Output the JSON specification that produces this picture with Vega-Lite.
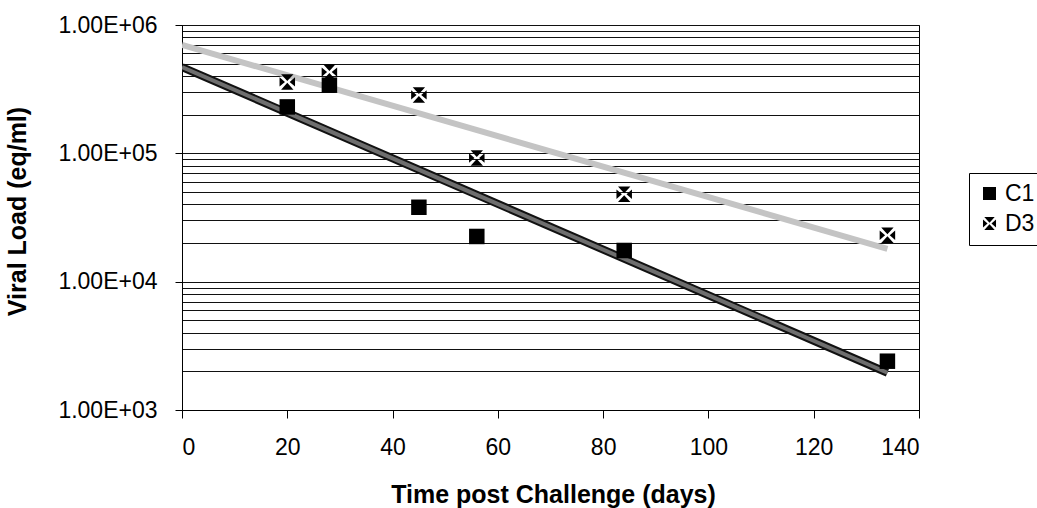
{
  "$schema": "https://vega.github.io/schema/vega-lite/v6.json",
  "width": 737,
  "height": 385,
  "autosize": {"type": "none"},
  "padding": {"left": 182, "top": 25, "right": 118, "bottom": 98},
  "background": "white",
  "config": {
    "view": {"stroke": "black", "strokeWidth": 1},
    "font": "Liberation Sans"
  },
  "datasets": {
    "points": [
      {"day": 20, "load": 230000, "series": "C1"},
      {"day": 28, "load": 340000, "series": "C1"},
      {"day": 45, "load": 38000, "series": "C1"},
      {"day": 56, "load": 22500, "series": "C1"},
      {"day": 84, "load": 17500, "series": "C1"},
      {"day": 134, "load": 2400, "series": "C1"},
      {"day": 20, "load": 360000, "series": "D3"},
      {"day": 28, "load": 430000, "series": "D3"},
      {"day": 45, "load": 285000, "series": "D3"},
      {"day": 56, "load": 92000, "series": "D3"},
      {"day": 84, "load": 48000, "series": "D3"},
      {"day": 134, "load": 23000, "series": "D3"}
    ],
    "trend": [
      {"day": 0, "load": 470000, "series": "C1"},
      {"day": 134, "load": 1950, "series": "C1"},
      {"day": 0, "load": 700000, "series": "D3"},
      {"day": 134, "load": 18000, "series": "D3"}
    ]
  },
  "layer": [
    {
      "data": {"name": "trend"},
      "transform": [{"filter": "datum.series == 'D3'"}],
      "mark": {"type": "line", "color": "#c4c4c4", "strokeWidth": 6, "clip": true},
      "encoding": {
        "x": {"field": "day", "type": "quantitative", "scale": {"domain": [0, 140], "nice": false},
          "axis": {"values": [0, 20, 40, 60, 80, 100, 120, 140], "grid": false, "domainColor": "black", "tickColor": "black", "tickSize": 8,
            "labelFontSize": 23, "labelColor": "black", "labelPadding": 18, "labelFont": "Liberation Sans",
            "title": "Time post Challenge (days)", "titleFontSize": 25, "titleFontWeight": "bold", "titleColor": "black", "titleFont": "Liberation Sans",
            "titleX": 371, "titleY": 92, "titleBaseline": "alphabetic", "titleAlign": "center"}},
        "y": {"field": "load", "type": "quantitative", "scale": {"type": "log", "domain": [1000, 1000000], "nice": false},
          "axis": {"values": [1000, 2000, 3000, 4000, 5000, 6000, 7000, 8000, 9000, 10000, 20000, 30000, 40000, 50000, 60000, 70000, 80000, 90000, 100000, 200000, 300000, 400000, 500000, 600000, 700000, 800000, 900000, 1000000],
            "grid": true, "gridColor": "#111", "gridWidth": 1, "gridOpacity": 1,
            "domainColor": "black", "tickColor": "black", "tickSize": 7,
            "tickOpacity": {"condition": {"test": "datum.value == 1000 || datum.value == 10000 || datum.value == 100000 || datum.value == 1000000", "value": 1}, "value": 0},
            "labelExpr": "datum.value == 1000 ? '1.00E+03' : datum.value == 10000 ? '1.00E+04' : datum.value == 100000 ? '1.00E+05' : datum.value == 1000000 ? '1.00E+06' : ''",
            "labelFontSize": 23, "labelColor": "black", "labelPadding": 18, "labelFont": "Liberation Sans",
            "title": "Viral Load (eq/ml)", "titleFontSize": 25, "titleFontWeight": "bold", "titleColor": "black", "titleFont": "Liberation Sans",
            "titleX": -152, "titleY": 186, "titleAlign": "center", "titleBaseline": "bottom"}}
      }
    },
    {
      "data": {"name": "trend"},
      "transform": [{"filter": "datum.series == 'C1'"}],
      "mark": {"type": "line", "color": "#111", "strokeWidth": 8, "clip": true},
      "encoding": {
        "x": {"field": "day", "type": "quantitative"},
        "y": {"field": "load", "type": "quantitative"}
      }
    },
    {
      "data": {"name": "trend"},
      "transform": [{"filter": "datum.series == 'C1'"}],
      "mark": {"type": "line", "color": "#6e6e6e", "strokeWidth": 4, "clip": true},
      "encoding": {
        "x": {"field": "day", "type": "quantitative"},
        "y": {"field": "load", "type": "quantitative"}
      }
    },
    {
      "data": {"name": "points"},
      "mark": {"type": "point", "filled": true, "opacity": 1, "color": "black"},
      "encoding": {
        "x": {"field": "day", "type": "quantitative"},
        "y": {"field": "load", "type": "quantitative"},
        "order": {"field": "series"},
        "shape": {"field": "series", "type": "nominal",
          "scale": {"domain": ["C1", "D3"], "range": ["square", "M-0.8,-1L0.8,-1L0,-0.12Z M-0.8,1L0.8,1L0,0.12Z M-1,-0.6L-1,0.6L-0.3,0Z M1,-0.6L1,0.6L0.3,0Z"]},
          "legend": {"title": null, "orient": "none", "legendX": 787, "legendY": 148,
            "strokeColor": "black", "fillColor": "white", "padding": 9,
            "labelFontSize": 23, "labelColor": "black", "labelFont": "Liberation Sans",
            "symbolSize": 170, "symbolFillColor": "black", "symbolStrokeWidth": 0, "rowPadding": 6, "labelOffset": 4}},
        "size": {"value": 240}
      }
    }
  ]
}
